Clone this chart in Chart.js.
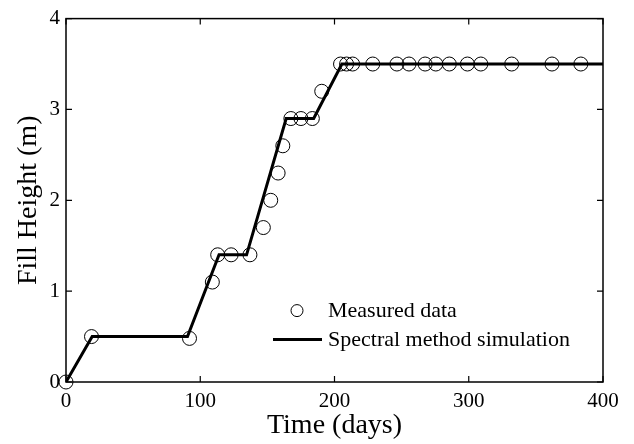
<!DOCTYPE html>
<html>
<head>
<meta charset="utf-8">
<script src="https://cdn.jsdelivr.net/npm/chart.js@4.4.1/dist/chart.umd.min.js"></script>
<style>
  html, body { margin: 0; padding: 0; background: #fff; }
  #wrap { width: 634px; height: 444px; }
</style>
</head>
<body>
<div id="wrap"><canvas id="grafico"></canvas></div>
<script>
// medidas (tempo em dias, altura em m)
const tempoMedido = [0, 19, 92, 109, 113, 123, 137, 147, 152.5, 158, 161.5, 167.5, 175, 183.5,
  190.5, 204.5, 209, 213.5, 228.5, 246.5, 255.5, 267.5, 275.5, 285.5, 299, 309, 332, 362, 383.5];
const alturaMedida = [0, 0.5, 0.48, 1.1, 1.4, 1.4, 1.4, 1.7, 2.0, 2.3, 2.6, 2.9, 2.9, 2.9,
  3.2, 3.5, 3.5, 3.5, 3.5, 3.5, 3.5, 3.5, 3.5, 3.5, 3.5, 3.5, 3.5, 3.5, 3.5];

// simulação (vértices da curva)
const tempoSimulado = [0, 19.5, 90.5, 114, 134.5, 164, 184.5, 205.5, 400];
const alturaSimulada = [0, 0.5, 0.5, 1.4, 1.4, 2.9, 2.9, 3.5, 3.5];

const ticksX = [0, 100, 200, 300, 400];
const ticksY = [0, 1, 2, 3, 4];

const fonteSerif = '"Liberation Serif", "Times New Roman", serif';

// moldura + marcas para dentro
const moldura = {
  id: 'moldura',
  afterDatasetsDraw(chart) {
    const { ctx, chartArea: a, scales } = chart;
    ctx.save();
    ctx.strokeStyle = '#000';
    ctx.lineWidth = 1.5;
    ctx.strokeRect(a.left, a.top, a.right - a.left, a.bottom - a.top);
    ctx.lineWidth = 1.2;
    ctx.beginPath();
    ticksX.forEach(v => {
      const px = scales.x.getPixelForValue(v);
      ctx.moveTo(px, a.bottom); ctx.lineTo(px, a.bottom - 6);
      ctx.moveTo(px, a.top); ctx.lineTo(px, a.top + 6);
    });
    ticksY.forEach(v => {
      const py = scales.y.getPixelForValue(v);
      ctx.moveTo(a.left, py); ctx.lineTo(a.left + 6, py);
      ctx.moveTo(a.right, py); ctx.lineTo(a.right - 6, py);
    });
    ctx.stroke();
    ctx.restore();
  }
};

// legenda dentro da área
const legenda = {
  id: 'legenda',
  afterDraw(chart) {
    const { ctx, chartArea: a } = chart;
    const x0 = a.left + 207, y1 = a.top + 292, y2 = a.top + 321;
    ctx.save();
    ctx.strokeStyle = '#000';
    ctx.lineWidth = 1;
    ctx.beginPath();
    ctx.arc(x0 + 24, y1, 6, 0, Math.PI * 2);
    ctx.stroke();
    ctx.lineWidth = 3;
    ctx.beginPath();
    ctx.moveTo(x0, y2); ctx.lineTo(x0 + 49, y2);
    ctx.stroke();
    ctx.fillStyle = '#000';
    ctx.font = '22px ' + fonteSerif;
    ctx.textBaseline = 'middle';
    ctx.fillText('Measured data', x0 + 55, y1 + 1);
    ctx.fillText('Spectral method simulation', x0 + 55, y2 + 1);
    ctx.restore();
  }
};

new Chart(document.getElementById('grafico'), {
  type: 'scatter',
  data: {
    datasets: [
      {
        label: 'Spectral method simulation',
        type: 'line',
        data: tempoSimulado.map((t, i) => ({ x: t, y: alturaSimulada[i] })),
        borderColor: '#000',
        borderWidth: 3,
        pointRadius: 0,
        fill: false,
        tension: 0
      },
      {
        label: 'Measured data',
        data: tempoMedido.map((t, i) => ({ x: t, y: alturaMedida[i] })),
        pointStyle: 'circle',
        pointRadius: 7,
        pointBorderWidth: 1,
        pointBorderColor: '#000',
        pointBackgroundColor: 'rgba(0,0,0,0)',
        showLine: false,
        clip: false
      }
    ]
  },
  options: {
    responsive: true,
    maintainAspectRatio: false,
    animation: false,
    layout: { padding: { top: 17, right: 31, left: 0, bottom: 0 } },
    plugins: {
      legend: { display: false },
      tooltip: { enabled: false }
    },
    scales: {
      x: {
        type: 'linear',
        min: 0, max: 400,
        afterFit: s => { s.height = 62; },
        afterBuildTicks: s => { s.ticks = ticksX.map(v => ({ value: v })); },
        grid: { display: false, drawTicks: false },
        border: { display: false },
        ticks: { color: '#000', font: { family: fonteSerif, size: 21 }, padding: 7, maxRotation: 0 },
        title: { display: true, text: 'Time (days)', color: '#000', font: { family: fonteSerif, size: 28 }, padding: { top: 0, bottom: 2 } }
      },
      y: {
        type: 'linear',
        min: 0, max: 4,
        afterFit: s => { s.width = 66; },
        afterBuildTicks: s => { s.ticks = ticksY.map(v => ({ value: v })); },
        grid: { display: false, drawTicks: false },
        border: { display: false },
        ticks: { color: '#000', font: { family: fonteSerif, size: 21 }, padding: 6 },
        title: { display: true, text: 'Fill Height (m)', color: '#000', font: { family: fonteSerif, size: 28 }, padding: { top: 12, bottom: 0 } }
      }
    }
  },
  plugins: [moldura, legenda]
});
</script>
</body>
</html>
